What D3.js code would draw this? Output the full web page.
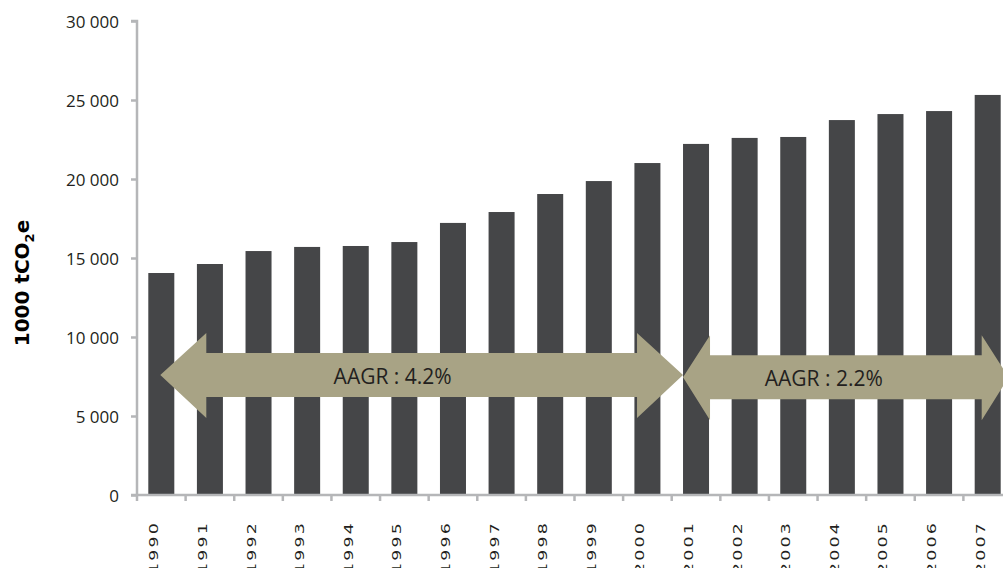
<!DOCTYPE html>
<html>
<head>
<meta charset="utf-8">
<script src="https://cdn.jsdelivr.net/npm/d3@7"></script>
<style>
  html, body { margin: 0; padding: 0; background: #fff; overflow: hidden; }
  svg { display: block; }
</style>
</head>
<body>
<svg id="chart" width="1003" height="568"></svg>
<script>
// ---- data ----
const years = ["1990","1991","1992","1993","1994","1995","1996","1997","1998","1999","2000","2001","2002","2003","2004","2005","2006","2007"];
const emissions = [14050,14620,15440,15700,15760,16010,17220,17910,19050,19870,21010,22220,22600,22660,23730,24110,24300,25320];
const yTicks = [0,5000,10000,15000,20000,25000,30000];
const arrowLabels = ["AAGR : 4.2%", "AAGR : 2.2%"];
const arrowFrom = ["1990", "2001"];
const arrowTo = ["2001", "2007"];
const arrowMid = [7600, 7450];

// ---- layout ----
const svg = d3.select("#chart");
const x = d3.scaleBand().domain(years).range([137, 1012]).paddingInner(0.465).paddingOuter(0.2325);
const y = d3.scaleLinear().domain([0, 30000]).range([495, 21]);

const axisColor = "#b5b6b8";
const barColor = "#454648";
const arrowColor = "#a8a385";
const textColor = "#231f20";

// bars
svg.append("g").selectAll("rect").data(years).join("rect")
  .attr("x", d => x(d))
  .attr("width", x.bandwidth())
  .attr("y", (d, i) => y(emissions[i]))
  .attr("height", (d, i) => y(0) - y(emissions[i]))
  .attr("fill", barColor);

// y axis
const yAxis = d3.axisLeft(y).tickValues(yTicks).tickSize(6).tickPadding(12)
  .tickFormat(d => d3.format(",")(d).replace(/,/g, " "));
const gy = svg.append("g").attr("transform", "translate(137,0)").call(yAxis);
gy.select(".domain").attr("stroke", axisColor).attr("stroke-width", 2.5).attr("d", "M-6,21H0V495");
gy.selectAll(".tick line").attr("stroke", axisColor).attr("stroke-width", 2.5);
gy.selectAll(".tick text").attr("fill", textColor)
  .attr("dy", "0.36em")
  .style("font-family", "'Open Sans', sans-serif").style("font-size", "17px");

// x axis baseline & ticks at band boundaries
const step = x.step();
const boundaries = years.map((d, i) => x.range()[0] + i * step);
const gx = svg.append("g");
gx.append("line").attr("x1", 131).attr("x2", 1003).attr("y1", y(0)).attr("y2", y(0))
  .attr("stroke", axisColor).attr("stroke-width", 2.5);
gx.selectAll("line.tk").data(boundaries).join("line").attr("class", "tk")
  .attr("x1", d => d).attr("x2", d => d).attr("y1", y(0)).attr("y2", y(0) + 6)
  .attr("stroke", axisColor).attr("stroke-width", 2.5);
gx.selectAll("text").data(years).join("text")
  .attr("transform", d => `translate(${x(d) + x.bandwidth() / 2 - 3},521) rotate(-90) scale(1.45,1)`)
  .attr("text-anchor", "end")
  .style("font-family", "'DejaVu Sans', sans-serif")
  .style("font-size", "12px")
  .style("letter-spacing", "1.5px")
  .attr("fill", textColor)
  .text(d => d);

// y axis title
const title = svg.append("text")
  .attr("transform", "translate(29,283) rotate(-90)")
  .attr("text-anchor", "middle")
  .style("font-family", "'DejaVu Sans', sans-serif")
  .style("font-size", "20px")
  .style("font-weight", "bold")
  .attr("fill", "#000");
title.append("tspan").text("1000 tCO");
title.append("tspan").text("2").attr("dy", 5).style("font-size", "13px");
title.append("tspan").text("e").attr("dy", -5);

// arrows
const ag = svg.append("g");
arrowLabels.forEach((lab, i) => {
  const first = i === 0;
  const xl = first ? x(arrowFrom[i]) + x.bandwidth() / 2 - 1 : x(arrowFrom[i]);
  const xr = first ? x(arrowTo[i]) : x(arrowTo[i]) + x.bandwidth() + 8;
  const head = first ? 46 : 27;
  const yc = y(arrowMid[i]);
  const ht = yc - 42, hb = yc + 43;  // head half-height
  const st = yc - 22, sb = yc + 22;  // shaft half-height
  const pts = [
    [xl, yc], [xl + head, ht], [xl + head, st], [xr - head, st], [xr - head, ht],
    [xr, yc], [xr - head, hb], [xr - head, sb], [xl + head, sb], [xl + head, hb]
  ];
  ag.append("path").attr("d", d3.line()(pts) + "Z").attr("fill", arrowColor);
  const tx = first ? (xl + xr) / 2 - 29 : (xl + xr) / 2 - 22;
  ag.append("text")
    .attr("x", tx)
    .attr("y", yc + 9)
    .attr("text-anchor", "middle")
    .style("font-family", "'Open Sans', sans-serif")
    .style("font-size", "21px")
    .attr("fill", textColor)
    .text(lab);
});
</script>
</body>
</html>
